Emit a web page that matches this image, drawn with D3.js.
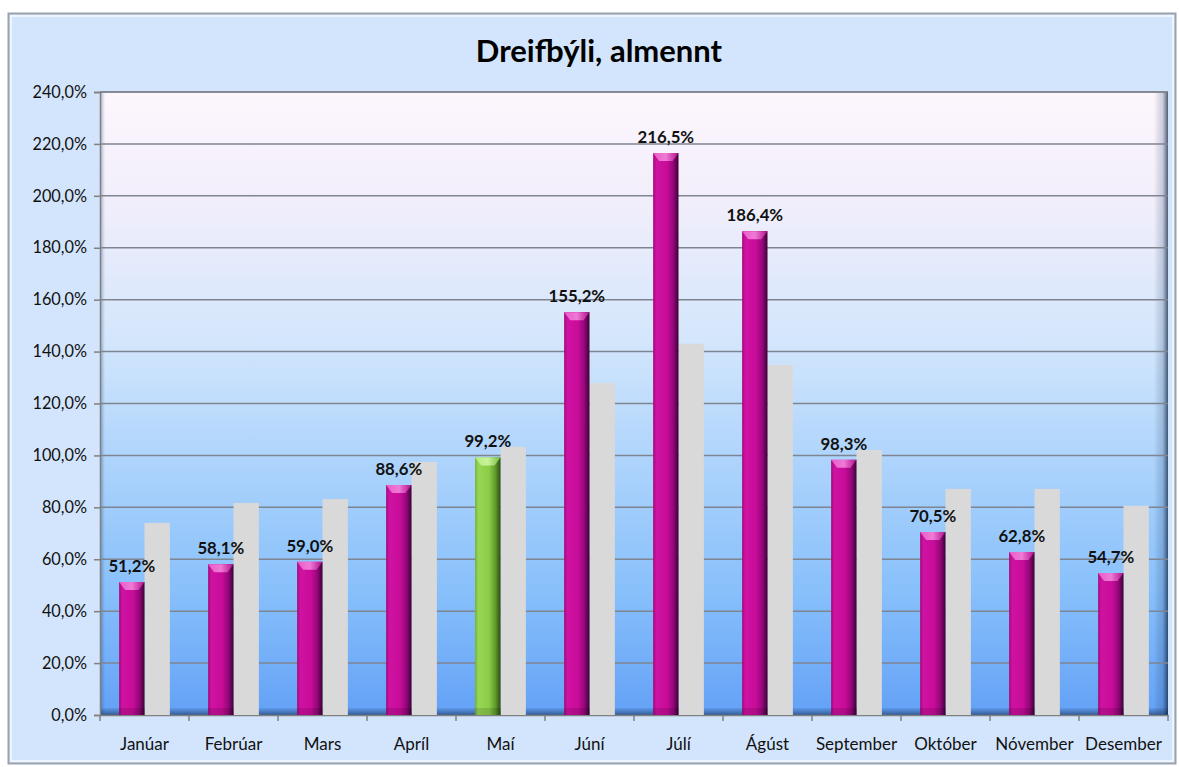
<!DOCTYPE html>
<html><head><meta charset="utf-8">
<script src="https://cdn.jsdelivr.net/npm/d3@7/dist/d3.min.js"></script>
<style>html,body{margin:0;padding:0;background:#fff;}svg{display:block;}</style>
</head><body>
<script>
const months = ["Janúar","Febrúar","Mars","Apríl","Maí","Júní","Júlí","Ágúst","September","Október","Nóvember","Desember"];
const current = [51.2,58.1,59.0,88.6,99.2,155.2,216.5,186.4,98.3,70.5,62.8,54.7];
const comparison = [74.0,81.7,83.2,97.5,103.3,127.9,143.0,134.9,102.1,87.1,87.1,80.6];
const highlightMonth = "Maí";
const yTicks = [0,20,40,60,80,100,120,140,160,180,200,220,240];
const title = "Dreifbýli, almennt";

const W = 1179, H = 767;
const plot = {l:100, r:1168, t:92, b:715};
const FONT = "Lato, 'Open Sans', sans-serif";
const svg = d3.select("body").append("svg").attr("width",W).attr("height",H);
const defs = svg.append("defs");

function lg(id, stops, vertical){
  const g = defs.append("linearGradient").attr("id",id);
  if(vertical) g.attr("x1",0).attr("y1",0).attr("x2",0).attr("y2",1);
  else g.attr("x1",0).attr("y1",0).attr("x2",1).attr("y2",0);
  stops.forEach(s=>g.append("stop").attr("offset",s[0]).attr("stop-color",s[1]).attr("stop-opacity",s[2]==null?1:s[2]));
}
lg("bgPlot",[[0,"#fdf6fd"],[0.18,"#f1eefb"],[0.4,"#d3e6fc"],[0.6,"#acd3fc"],[0.8,"#88c0fb"],[1,"#63a1f6"]],true);
lg("mag",[[0,"#a0087a"],[0.12,"#cf12a2"],[0.55,"#c80c99"],[0.8,"#92077a"],[1,"#3e0232"]]);
lg("magTop",[[0,"#e85cc8"],[0.5,"#f07ad6"],[1,"#b0108a"]]);
lg("grn",[[0,"#6fb234"],[0.12,"#97d654"],[0.55,"#8ccc48"],[0.8,"#5f9a2a"],[1,"#2d4d10"]]);
lg("grnTop",[[0,"#b6ec82"],[0.5,"#c8f39a"],[1,"#7cbc3c"]]);
lg("rightWall",[[0,"#000",0],[0.6,"#1a3a6a",0.2],[1,"#0a1a30",0.7]]);
lg("floor",[[0,"#1a3a6a",0.1],[1,"#0a1f40",0.55]],true);
lg("leftWall",[[0,"#1a3a6a",0.35],[1,"#1a3a6a",0]]);

// outer chart background
svg.append("rect").attr("x",8.5).attr("y",13.5).attr("width",1167).attr("height",750)
  .attr("fill","#d3e5fc").attr("stroke","#9aa3ad").attr("stroke-width",2);
svg.append("rect").attr("x",11).attr("y",16).attr("width",1162).attr("height",745)
  .attr("fill","none").attr("stroke","#eef5fe").attr("stroke-width",2);

// title
svg.append("text").attr("x",599).attr("y",62).attr("text-anchor","middle")
  .attr("font-family",FONT).attr("font-weight","bold").attr("font-size",31)
  .attr("fill","#000").text(title);

const y = d3.scaleLinear().domain([0,240]).range([plot.b, plot.t]);
const x = d3.scaleBand().domain(months).range([plot.l, plot.r]).padding(0);
const xs = d3.scaleBand().domain(["cur","cmp"]).range([x.bandwidth()*0.215, x.bandwidth()*0.785]).padding(0);

// plot background
svg.append("rect").attr("x",plot.l).attr("y",plot.t).attr("width",plot.r-plot.l).attr("height",plot.b-plot.t)
  .attr("fill","url(#bgPlot)");
svg.append("rect").attr("x",plot.l).attr("y",plot.t).attr("width",5).attr("height",plot.b-plot.t).attr("fill","url(#leftWall)");
svg.append("rect").attr("x",plot.l).attr("y",plot.b-7).attr("width",plot.r-plot.l).attr("height",7).attr("fill","url(#floor)");
svg.append("rect").attr("x",plot.r-14).attr("y",plot.t).attr("width",14).attr("height",plot.b-plot.t).attr("fill","url(#rightWall)");
svg.append("line").attr("x1",plot.l).attr("x2",plot.r).attr("y1",plot.t).attr("y2",plot.t).attr("stroke","#555").attr("stroke-width",1.2);

// gridlines
svg.append("g").selectAll("line").data(yTicks.filter(d=>d>0)).join("line")
  .attr("x1",plot.l).attr("x2",plot.r).attr("y1",d=>y(d)).attr("y2",d=>y(d))
  .attr("stroke","#7f8590").attr("stroke-width",1.5);

// y axis
const yAxis = d3.axisLeft(y).tickValues(yTicks).tickSize(6).tickPadding(7)
  .tickFormat(d=>d3.format(".1f")(d).replace(".",",")+"%");
const gy = svg.append("g").attr("transform",`translate(${plot.l},0)`).call(yAxis);
gy.select(".domain").attr("stroke","#808080").attr("stroke-width",1.5);
gy.selectAll(".tick line").attr("stroke","#808080").attr("stroke-width",1.5);
gy.selectAll("text").attr("font-family",FONT).attr("font-size",16.3).attr("fill","#111");

// x axis
const xAxis = d3.axisBottom(x).tickSize(0).tickPadding(23);
const gx = svg.append("g").attr("transform",`translate(0,${plot.b})`).call(xAxis);
gx.select(".domain").attr("stroke","#808080").attr("stroke-width",1.5);
gx.selectAll("text").attr("font-family",FONT).attr("font-size",17).attr("fill","#111");
// category separators
svg.append("g").selectAll("line").data(months.concat(["end"])).join("line")
  .attr("x1",(d,i)=>i<months.length?x(d):plot.r).attr("x2",(d,i)=>i<months.length?x(d):plot.r)
  .attr("y1",plot.b).attr("y2",plot.b+6).attr("stroke","#808080").attr("stroke-width",1.5);

// comparison bars
svg.append("g").selectAll("rect").data(comparison).join("rect")
  .attr("x",(d,i)=>x(months[i])+xs("cmp")).attr("width",xs.bandwidth())
  .attr("y",d=>y(d)).attr("height",d=>y(0)-y(d)).attr("fill","#d9d9d9");

// current bars
const bw = xs.bandwidth();
const gc = svg.append("g").selectAll("g").data(current).join("g")
  .attr("transform",(d,i)=>`translate(${x(months[i])+xs("cur")},0)`);
gc.append("rect").attr("x",0).attr("width",bw).attr("y",d=>y(d)).attr("height",d=>y(0)-y(d))
  .attr("fill",(d,i)=>months[i]===highlightMonth?"url(#grn)":"url(#mag)");
gc.append("path")
  .attr("d",d=>{const t=y(d);return `M0,${t} L${bw},${t} L${bw-6},${t+8} L6,${t+8} Z`;})
  .attr("fill",(d,i)=>months[i]===highlightMonth?"url(#grnTop)":"url(#magTop)");
gc.append("rect").attr("x",0).attr("width",bw).attr("y",d=>y(0)-7).attr("height",7)
  .attr("fill","#000").attr("opacity",0.12);

// labels
gc.append("text").attr("x",bw/2).attr("y",d=>y(d)-10).attr("text-anchor","middle")
  .attr("font-family",FONT).attr("font-weight","bold").attr("font-size",16.8)
  .attr("fill","#111").text(d=>d3.format(".1f")(d).replace(".",",")+"%");
</script>
</body></html>
